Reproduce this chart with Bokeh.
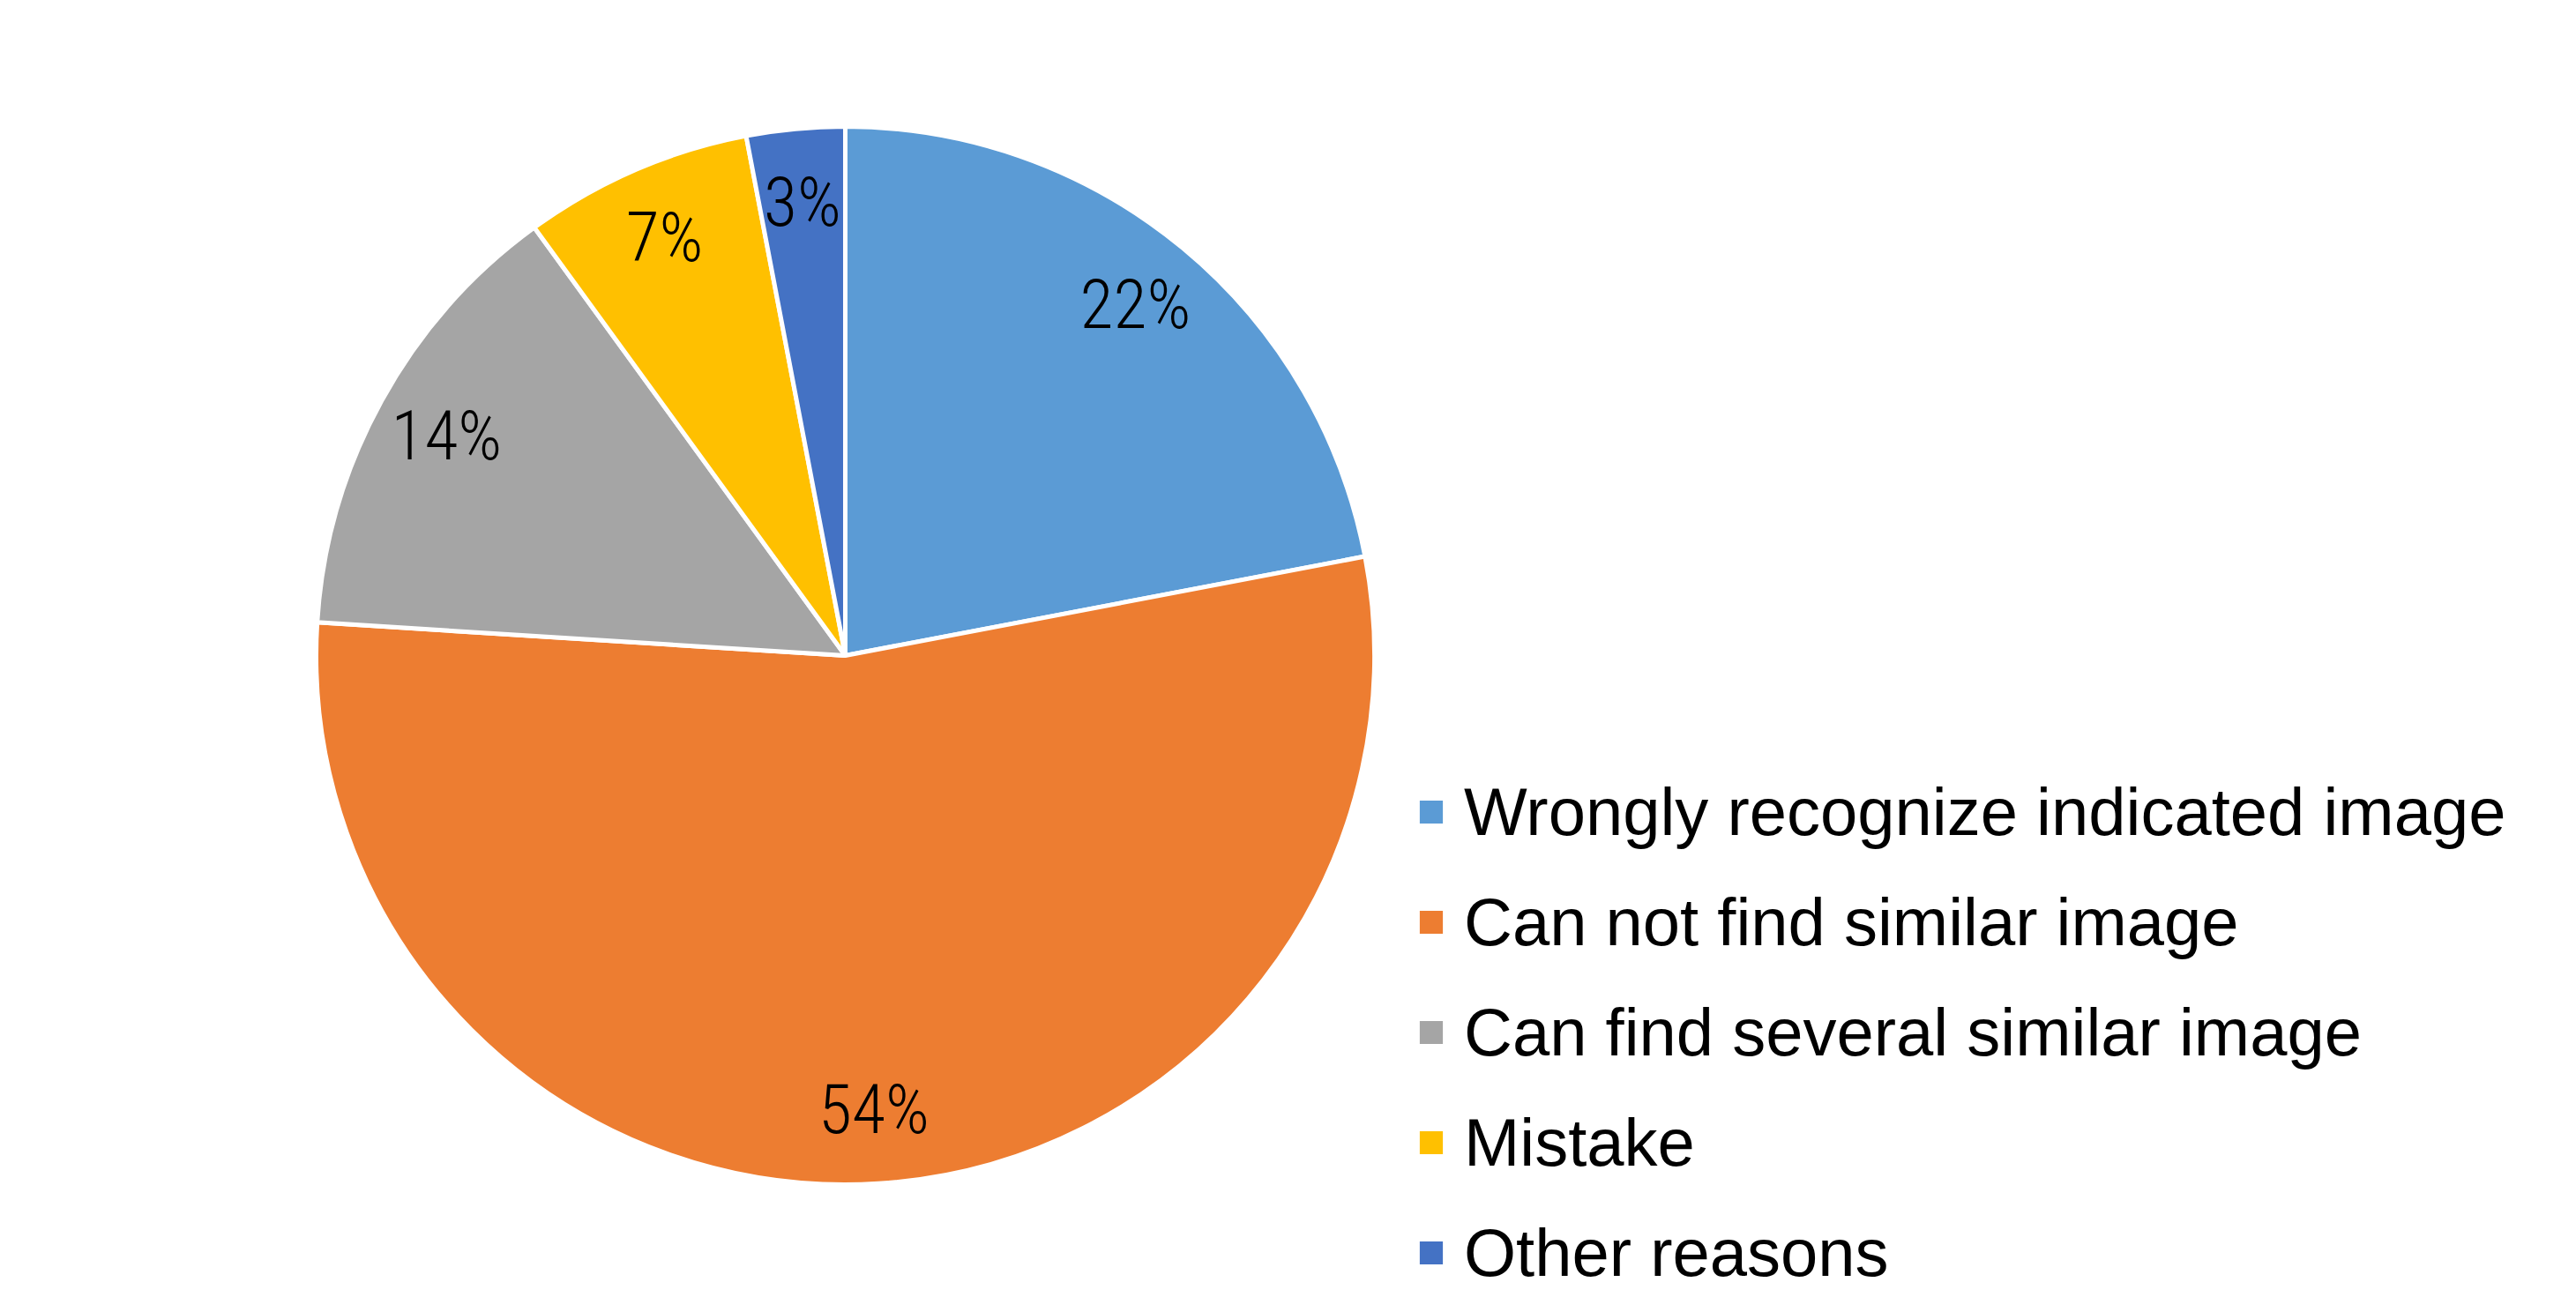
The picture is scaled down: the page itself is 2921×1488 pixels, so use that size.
import numpy as np
from bokeh.plotting import figure
from bokeh.models import ColumnDataSource, Legend, LegendItem, Range1d
from bokeh.core.properties import value
from bokeh.embed import file_html
from bokeh.resources import INLINE

categories = ["Wrongly recognize indicated image", "Can not find similar image",
              "Can find several similar image", "Mistake", "Other reasons"]
percent = [22, 54, 14, 7, 3]
colors = ["#5B9BD5", "#ED7D31", "#A5A5A5", "#FFC000", "#4472C4"]

W, H = 2921, 1488
CX, CY, R = 958, 1488 - 743, 600
LABEL_FRAC = 0.86

vals = np.array(percent, dtype=float)
frac = vals / vals.sum()
cum_end = np.cumsum(frac)
cum_start = cum_end - frac
start = np.pi / 2 - 2 * np.pi * cum_end
end = np.pi / 2 - 2 * np.pi * cum_start
mid = (start + end) / 2

src = ColumnDataSource(dict(
    cat=categories, color=colors, start=start, end=end,
    lx=CX + LABEL_FRAC * R * np.cos(mid), ly=CY + LABEL_FRAC * R * np.sin(mid),
    lab=[f"{v}%" for v in percent],
))

p = figure(width=W, height=H, output_backend="svg", toolbar_location=None,
           x_range=Range1d(0, W), y_range=Range1d(0, H), min_border=0)
p.axis.visible = False
p.grid.visible = False
p.outline_line_color = None
p.background_fill_color = "white"

r = p.wedge(x=CX, y=CY, radius=R, start_angle="start", end_angle="end",
            fill_color="color", line_color="white", line_width=5, source=src)

p.text(x="lx", y="ly", text="lab", source=src, text_align="center",
       text_baseline="middle", text_font_size="78px",
       text_font=value("Roboto Condensed Light, Roboto Condensed, Liberation Sans Narrow, sans-serif"),
       text_color="#000000")

items = [LegendItem(label=c, renderers=[r], index=i) for i, c in enumerate(categories)]
legend = Legend(items=items, location=(1603, 24), orientation="vertical",
                glyph_width=39, glyph_height=39, label_standoff=18,
                label_text_font_size="76px", label_text_font="Liberation Sans",
                label_text_color="#000000", label_text_baseline="middle",
                spacing=38, padding=0, margin=0, border_line_color=None,
                background_fill_alpha=0)
p.add_layout(legend, "center")

open("out.html", "w").write(file_html(p, INLINE))
